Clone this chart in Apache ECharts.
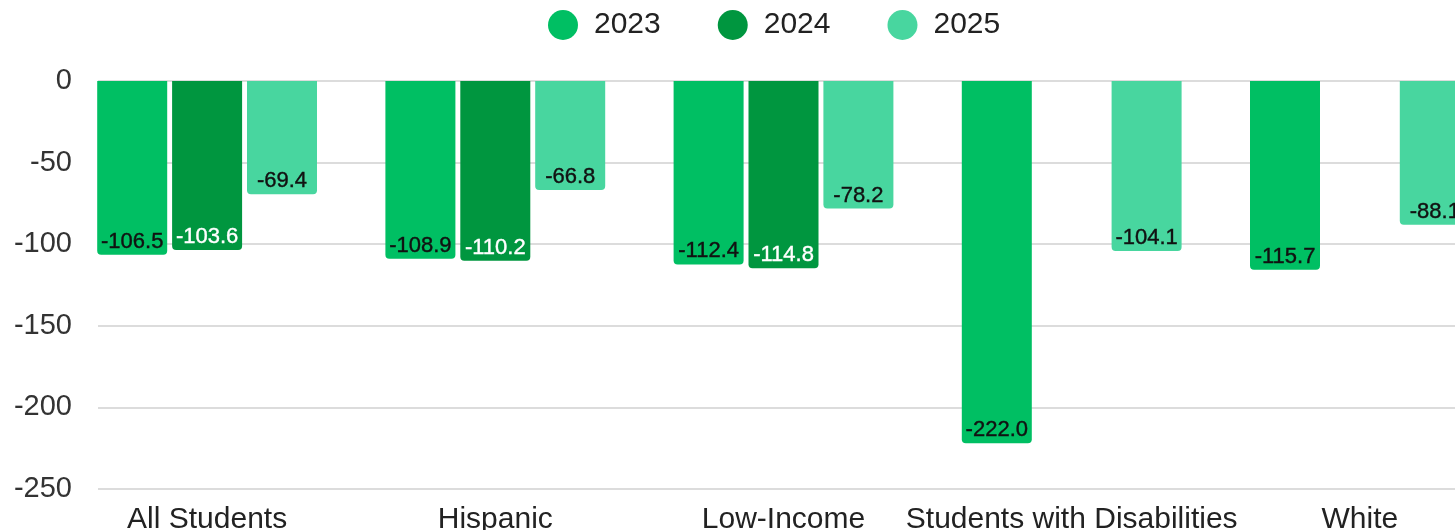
<!DOCTYPE html>
<html>
<head>
<meta charset="utf-8">
<style>
  html, body { margin: 0; padding: 0; background: #fff; }
  #chart { width: 1455px; height: 530px; }
</style>
<script src="https://cdn.jsdelivr.net/npm/echarts@6/dist/echarts.min.js"></script>
</head>
<body>
<div id="chart"></div>
<script>
// Student groups along the x axis
const categories = ['All Students', 'Hispanic', 'Low-Income', 'Students with Disabilities', 'White'];

// Yearly values per group (null = no bar that year)
const values2023 = [-106.5, -108.9, -112.4, -222.0, -115.7];
const values2024 = [-103.6, -110.2, -114.8, null, null];
const values2025 = [-69.4, -66.8, -78.2, -104.1, -88.1];

// Value axis ticks
const yTicks = [0, -50, -100, -150, -200, -250];

const FONT = "'Liberation Sans', Arial, sans-serif";
const colors = { '2023': '#00BF63', '2024': '#00963F', '2025': '#48D69F' };

function barSeries(name, data, labelColor) {
  return {
    name: name,
    type: 'bar',
    xAxisIndex: 1,
    yAxisIndex: 1,
    data: data,
    barWidth: 70,
    barGap: '7%',
    itemStyle: { color: colors[name], borderRadius: [0, 0, 4, 4] },
    label: {
      show: true,
      position: 'insideBottom',
      distance: 2,
      color: labelColor,
      fontFamily: FONT,
      fontSize: 22,
      fontWeight: 'normal',
      textBorderColor: labelColor,
      textBorderWidth: 0.4,
      formatter: p => (p.value == null ? '' : Number(p.value).toFixed(1))
    }
  };
}

const chart = echarts.init(document.getElementById('chart'));
chart.setOption({
  animation: false,
  backgroundColor: '#fff',
  textStyle: { fontFamily: FONT },
  legend: {
    left: 548,
    top: 10,
    padding: 0,
    icon: 'circle',
    itemWidth: 30,
    itemHeight: 30,
    itemGap: 57,
    textStyle: { fontSize: 30, color: '#222', fontFamily: FONT, padding: [2, 0, 0, 11] },
    data: ['2023', '2024', '2025']
  },
  grid: [
    // value scale with grid lines
    { left: 98, right: 0, top: 81, bottom: 41, outerBoundsMode: 'none' },
    // bars and category labels; the last group runs past the right edge
    { left: 63, right: -49, top: 81, bottom: 41, outerBoundsMode: 'none' }
  ],
  xAxis: [
    { type: 'category', gridIndex: 0, data: categories, show: false },
    {
      type: 'category',
      gridIndex: 1,
      data: categories,
      axisLine: { show: false },
      axisTick: { show: false },
      axisLabel: { fontSize: 30, color: '#222', margin: 16, fontFamily: FONT, interval: 0 }
    }
  ],
  yAxis: [
    {
      type: 'value',
      gridIndex: 0,
      min: -250,
      max: 0,
      interval: 50,
      axisLine: { show: false },
      axisTick: { show: false },
      axisLabel: {
        fontSize: 29,
        color: '#333',
        margin: 26,
        fontFamily: FONT,
        formatter: v => (yTicks.includes(v) ? String(v) : '')
      },
      splitLine: { show: true, lineStyle: { color: '#dcdcdc', width: 2 } }
    },
    {
      type: 'value',
      gridIndex: 1,
      min: -250,
      max: 0,
      interval: 50,
      show: false,
      splitLine: { show: false }
    }
  ],
  series: [
    barSeries('2023', values2023, '#111'),
    barSeries('2024', values2024, '#fff'),
    barSeries('2025', values2025, '#111')
  ]
});
</script>
</body>
</html>
